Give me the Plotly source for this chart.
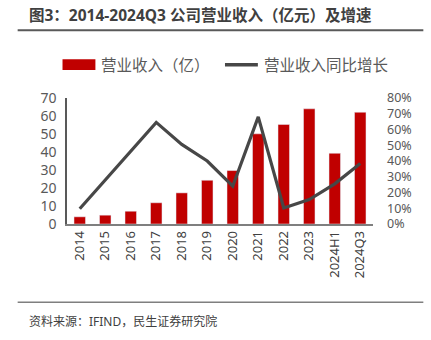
import plotly.graph_objects as go

categories = ["2014", "2015", "2016", "2017", "2018", "2019", "2020", "2021", "2022", "2023", "2024H1", "2024Q3"]
revenue = [4.0, 4.9, 7.1, 11.8, 17.3, 24.3, 29.7, 50.1, 55.3, 64.0, 39.3, 62.1]
growth = [0.097, 0.28, 0.46, 0.645, 0.505, 0.40, 0.24, 0.68, 0.102, 0.155, 0.255, 0.384]
left_ticks = [0, 10, 20, 30, 40, 50, 60, 70]
right_ticks = [0, 0.1, 0.2, 0.3, 0.4, 0.5, 0.6, 0.7, 0.8]

W, H = 431, 340
L, R, T, B = 66.5, 57.5, 98, 115.5
PW = W - L - R
PH = H - T - B

def px(x):
    return (x - L) / PW

def py(y):
    return 1 - (y - T) / PH

fig = go.Figure()
fig.add_trace(go.Bar(x=categories, y=revenue, marker_color="#C00000", width=0.45,
                     name="营业收入（亿）", showlegend=False))
fig.add_trace(go.Scatter(x=categories, y=growth, yaxis="y2", mode="lines",
                         line=dict(color="#474747", width=3.2),
                         name="营业收入同比增长", showlegend=False))

fig.update_layout(
    width=W, height=H,
    margin=dict(l=L, r=R, t=T, b=B, pad=0),
    paper_bgcolor="white", plot_bgcolor="white",
    xaxis=dict(type="category", tickangle=-90, showgrid=False, showline=True,
               linecolor="#7f7f7f", linewidth=1.5, ticks="",
               tickfont=dict(family="Noto Sans, DejaVu Sans", size=13, color="#404040")),
    yaxis=dict(range=[0, 70], tickvals=left_ticks, showgrid=False, zeroline=False,
               showline=True, linecolor="#595959", linewidth=1.5, ticks="",
               tickfont=dict(family="Noto Sans, DejaVu Sans", size=14, color="#595959"),
               ticklabelstandoff=6),
    yaxis2=dict(range=[0, 0.8], tickvals=right_ticks, tickformat=".0%", overlaying="y",
                side="right", showgrid=False, zeroline=False, showline=False, ticks="",
                tickfont=dict(family="Noto Sans, DejaVu Sans", size=12.5, color="#595959"),
                ticklabelstandoff=13),
    font=dict(family="Noto Sans, Noto Sans CJK SC"),
)

cjk = "Noto Sans, Noto Sans CJK SC"
# Title
fig.add_annotation(text="<b>图3：2014-2024Q3 公司营业收入（亿元）及增速</b>", xref="paper", yref="paper",
                   x=px(26), y=py(15), xanchor="left", yanchor="middle", showarrow=False,
                   font=dict(family=cjk, size=15.5, color="#404040"))
fig.add_shape(type="line", xref="paper", yref="paper", x0=px(17), x1=px(424), y0=py(30), y1=py(30),
              line=dict(color="#595959", width=2))
# Legend
fig.add_shape(type="rect", xref="paper", yref="paper", x0=px(62), x1=px(95), y0=py(59), y1=py(70),
              line=dict(width=0), fillcolor="#C00000")
fig.add_annotation(text="营业收入（亿）", xref="paper", yref="paper", x=px(99), y=py(64.5),
                   xanchor="left", yanchor="middle", showarrow=False,
                   font=dict(family=cjk, size=15.5, color="#595959"))
fig.add_shape(type="line", xref="paper", yref="paper", x0=px(225), x1=px(258), y0=py(64.5), y1=py(64.5),
              line=dict(color="#474747", width=3.5))
fig.add_annotation(text="营业收入同比增长", xref="paper", yref="paper", x=px(262), y=py(64.5),
                   xanchor="left", yanchor="middle", showarrow=False,
                   font=dict(family=cjk, size=15.5, color="#595959"))
# Footer
fig.add_shape(type="line", xref="paper", yref="paper", x0=px(17), x1=px(424), y0=py(303), y1=py(303),
              line=dict(color="#7f7f7f", width=1.5))
fig.add_annotation(text="资料来源：IFIND，民生证券研究院", xref="paper", yref="paper", x=px(26), y=py(322),
                   xanchor="left", yanchor="middle", showarrow=False,
                   font=dict(family=cjk, size=12, color="#404040"))

fig.write_html("out.html")
